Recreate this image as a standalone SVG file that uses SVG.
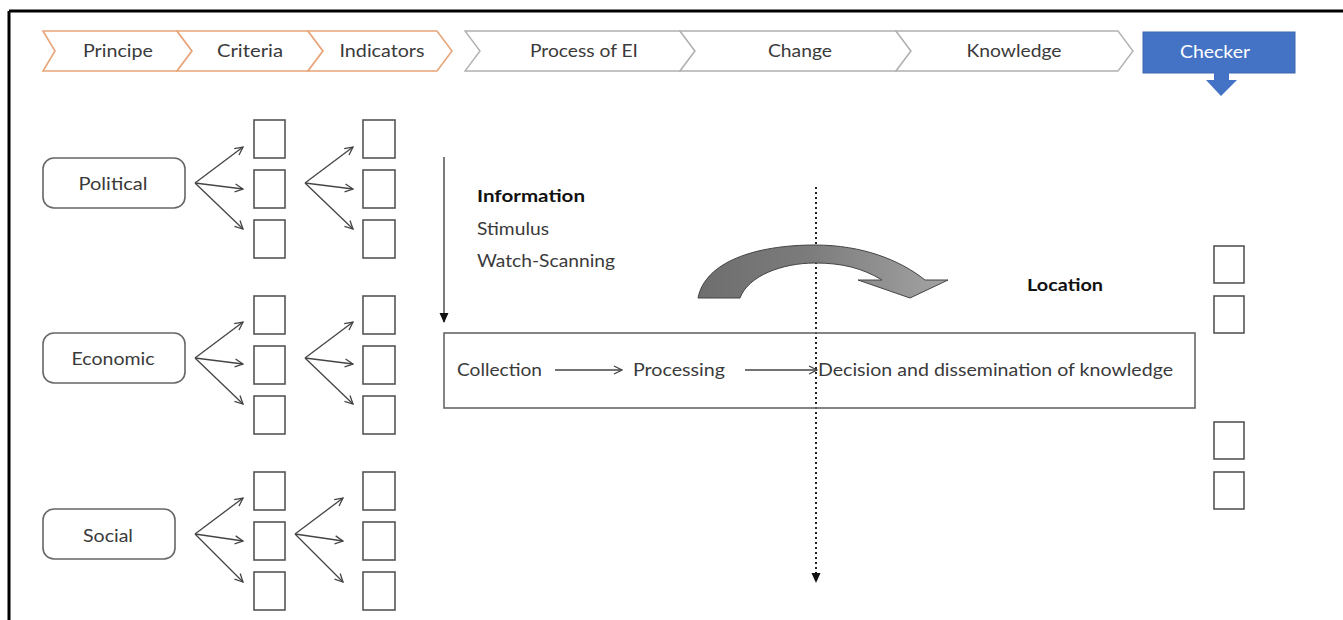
<svg xmlns="http://www.w3.org/2000/svg" width="1343" height="620" viewBox="0 0 1343 620">
<style>
text{font-family:Lato,"Open Sans","Liberation Sans",sans-serif;font-size:17px;fill:#3a3a3a}
.b{font-weight:bold;fill:#111}
.c{text-anchor:middle}
.och{fill:#fff;stroke:#e8a57a;stroke-width:1.6}
.gch{fill:#fff;stroke:#b0b0b0;stroke-width:1.4}
.node{fill:#fff;stroke:#666;stroke-width:1.6}
.sq{fill:#fff;stroke:#555;stroke-width:1.6}
.ar{fill:none;stroke:#444;stroke-width:1.3;marker-end:url(#open)}
</style>
<defs>
<marker id="open" viewBox="0 0 10 10" refX="9" refY="5" markerWidth="10" markerHeight="10" markerUnits="userSpaceOnUse" orient="auto">
<path d="M1,1 L9,5 L1,9" fill="none" stroke="#444" stroke-width="1.3"/>
</marker>
<marker id="solid" viewBox="0 0 10 10" refX="9" refY="5" markerWidth="10" markerHeight="10" markerUnits="userSpaceOnUse" orient="auto">
<path d="M0,0.5 L10,5 L0,9.5 Z" fill="#111"/>
</marker>
<linearGradient id="cg" x1="0" y1="0" x2="1" y2="0">
<stop offset="0" stop-color="#6e6e6e"/>
<stop offset="0.45" stop-color="#7c7c7c"/>
<stop offset="1" stop-color="#a4a4a4"/>
</linearGradient>
</defs>
<rect width="1343" height="620" fill="#fff"/>
<g id="frame" stroke="#000" stroke-width="3">
<line x1="9" y1="11" x2="1343" y2="11"/>
<line x1="9" y1="11" x2="9" y2="620"/>
</g>

<g id="step-principe"><polygon class="och" points="43,31 177,31 192,51 177,71 43,71 55,51"/><text class="c" x="118" y="57" textLength="70" lengthAdjust="spacingAndGlyphs">Principe</text></g>
<g id="step-criteria"><polygon class="och" points="177,31 308,31 323,51 308,71 177,71 192,51"/><text class="c" x="250" y="57" textLength="66" lengthAdjust="spacingAndGlyphs">Criteria</text></g>
<g id="step-indicators"><polygon class="och" points="308,31 437,31 452,51 437,71 308,71 323,51"/><text class="c" x="382" y="57" textLength="85" lengthAdjust="spacingAndGlyphs">Indicators</text></g>
<g id="step-process"><polygon class="gch" points="465,31 680,31 695,51 680,71 465,71 480,51"/><text class="c" x="584" y="57" textLength="108" lengthAdjust="spacingAndGlyphs">Process of EI</text></g>
<g id="step-change"><polygon class="gch" points="680,31 896,31 911,51 896,71 680,71 695,51"/><text class="c" x="800" y="57" textLength="64" lengthAdjust="spacingAndGlyphs">Change</text></g>
<g id="step-knowledge"><polygon class="gch" points="896,31 1118,31 1133,51 1118,71 896,71 911,51"/><text class="c" x="1014" y="57" textLength="95" lengthAdjust="spacingAndGlyphs">Knowledge</text></g>
<g id="step-checker">
<rect x="1143" y="32" width="152" height="41" fill="#4472c4" stroke="#3d66b0"/>
<polygon points="1214,72 1229,72 1229,80 1237,80 1221,96 1206,80 1214,80" fill="#4472c4"/>
<text class="c" x="1215" y="58" textLength="70" lengthAdjust="spacingAndGlyphs" style="fill:#fff">Checker</text>
</g>

<g id="node-political"><rect class="node" x="43" y="158" width="142" height="50" rx="11"/><text class="c" x="113" y="190" textLength="69" lengthAdjust="spacingAndGlyphs">Political</text></g>
<g id="node-economic"><rect class="node" x="43" y="333" width="142" height="50" rx="11"/><text class="c" x="113" y="365" textLength="83" lengthAdjust="spacingAndGlyphs">Economic</text></g>
<g id="node-social"><rect class="node" x="43" y="509" width="132" height="50" rx="11"/><text class="c" x="108" y="542" textLength="50" lengthAdjust="spacingAndGlyphs">Social</text></g>

<g id="criteria-boxes">
<rect class="sq" x="254" y="120" width="31" height="38"/><rect class="sq" x="254" y="170" width="31" height="38"/><rect class="sq" x="254" y="220" width="31" height="38"/>
<rect class="sq" x="254" y="296" width="31" height="38"/><rect class="sq" x="254" y="346" width="31" height="38"/><rect class="sq" x="254" y="396" width="31" height="38"/>
<rect class="sq" x="254" y="472" width="31" height="38"/><rect class="sq" x="254" y="522" width="31" height="38"/><rect class="sq" x="254" y="572" width="31" height="38"/>
</g>
<g id="indicator-boxes">
<rect class="sq" x="363" y="120" width="32" height="38"/><rect class="sq" x="363" y="170" width="32" height="38"/><rect class="sq" x="363" y="220" width="32" height="38"/>
<rect class="sq" x="363" y="296" width="32" height="38"/><rect class="sq" x="363" y="346" width="32" height="38"/><rect class="sq" x="363" y="396" width="32" height="38"/>
<rect class="sq" x="363" y="472" width="32" height="38"/><rect class="sq" x="363" y="522" width="32" height="38"/><rect class="sq" x="363" y="572" width="32" height="38"/>
</g>
<g id="checker-boxes">
<rect class="sq" x="1214" y="246" width="30" height="37"/><rect class="sq" x="1214" y="296" width="30" height="37"/>
<rect class="sq" x="1214" y="422" width="30" height="37"/><rect class="sq" x="1214" y="472" width="30" height="37"/>
</g>

<g id="connectors">
<line class="ar" x1="195" y1="183" x2="243" y2="147"/><line class="ar" x1="195" y1="183" x2="243" y2="189"/><line class="ar" x1="195" y1="183" x2="243" y2="229"/>
<line class="ar" x1="305" y1="183" x2="353" y2="147"/><line class="ar" x1="305" y1="183" x2="353" y2="189"/><line class="ar" x1="305" y1="183" x2="353" y2="229"/>
<line class="ar" x1="195" y1="358" x2="243" y2="322"/><line class="ar" x1="195" y1="358" x2="243" y2="364"/><line class="ar" x1="195" y1="358" x2="243" y2="404"/>
<line class="ar" x1="305" y1="358" x2="353" y2="322"/><line class="ar" x1="305" y1="358" x2="353" y2="364"/><line class="ar" x1="305" y1="358" x2="353" y2="404"/>
<line class="ar" x1="195" y1="534" x2="243" y2="498"/><line class="ar" x1="195" y1="534" x2="243" y2="541"/><line class="ar" x1="195" y1="534" x2="243" y2="582"/>
<line class="ar" x1="295" y1="534" x2="343" y2="498"/><line class="ar" x1="295" y1="534" x2="343" y2="541"/><line class="ar" x1="295" y1="534" x2="343" y2="582"/>
<line x1="444" y1="157" x2="444" y2="322" stroke="#333" stroke-width="1.3" marker-end="url(#solid)"/>
<line class="ar" x1="555" y1="370" x2="622" y2="370"/>
<line class="ar" x1="745" y1="370" x2="817" y2="370"/>
<line x1="816" y1="187" x2="816" y2="582" stroke="#222" stroke-width="2" stroke-dasharray="2 3" marker-end="url(#solid)"/>
</g>

<g id="information-text">
<text class="b" x="477" y="202" textLength="108" lengthAdjust="spacingAndGlyphs">Information</text>
<text x="477" y="235" textLength="72" lengthAdjust="spacingAndGlyphs">Stimulus</text>
<text x="477" y="267" textLength="138" lengthAdjust="spacingAndGlyphs">Watch-Scanning</text>
</g>

<g id="process-box">
<rect x="444" y="333" width="751" height="75" fill="none" stroke="#666" stroke-width="1.6"/>
<text x="457" y="376" textLength="85" lengthAdjust="spacingAndGlyphs">Collection</text>
<text x="633" y="376" textLength="92" lengthAdjust="spacingAndGlyphs">Processing</text>
<text x="818" y="376" textLength="355" lengthAdjust="spacingAndGlyphs">Decision and dissemination of knowledge</text>
</g>

<g id="curved-arrow">
<path d="M698,298 C705,262 755,245 815,245 C862,245 900,260 925,280 L948,280 L910,298 L858,280 L882,280 C862,268 842,263 815,263 C782,263 748,276 740,298 Z" fill="url(#cg)" stroke="#444" stroke-width="1"/>
</g>

<g id="location"><text class="b" x="1027" y="291" textLength="76" lengthAdjust="spacingAndGlyphs">Location</text></g>
</svg>
